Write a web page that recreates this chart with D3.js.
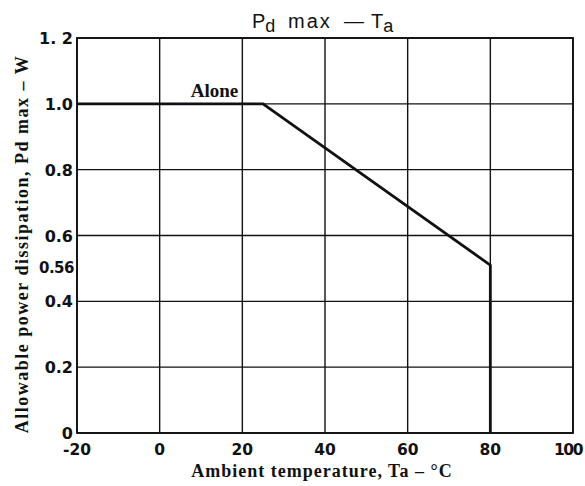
<!DOCTYPE html>
<html>
<head>
<meta charset="utf-8">
<script src="https://cdn.jsdelivr.net/npm/d3@7"></script>
<style>
  body { margin: 0; background: #fff; }
</style>
</head>
<body>
<div id="chart"></div>
<script>
// chart values
const temps = [-20, 25, 80];
const power = [1.0, 1.0, 0.51];
const xTicks = [-20, 0, 20, 40, 60, 80, 100];
const yTicks = [0, 0.2, 0.4, 0.6, 0.8, 1.0, 1.2];
const yLabels = ["0", "0.2", "0.4", "0.6", "0.8", "1.0", "1. 2"];
const endLabel = "0.56";

const width = 585, height = 486;
const margin = {top: 38, right: 12, bottom: 53, left: 77};

const svg = d3.select("#chart").append("svg")
    .attr("width", width)
    .attr("height", height);

const x = d3.scaleLinear().domain([-20, 100]).range([margin.left, width - margin.right]);
const y = d3.scaleLinear().domain([0, 1.2]).range([height - margin.bottom, margin.top]);

// grid
svg.append("g")
  .selectAll("line")
  .data(xTicks)
  .join("line")
    .attr("x1", d => x(d)).attr("x2", d => x(d))
    .attr("y1", y(0)).attr("y2", y(1.2))
    .attr("stroke", "#111")
    .attr("stroke-width", 1.4);

svg.append("g")
  .selectAll("line")
  .data(yTicks)
  .join("line")
    .attr("x1", x(-20)).attr("x2", x(100))
    .attr("y1", d => y(d)).attr("y2", d => y(d))
    .attr("stroke", "#111")
    .attr("stroke-width", 1.4);

// frame
svg.append("rect")
    .attr("x", x(-20)).attr("y", y(1.2))
    .attr("width", x(100) - x(-20)).attr("height", y(0) - y(1.2))
    .attr("fill", "none").attr("stroke", "#111").attr("stroke-width", 1.8);

// curve
const pts = temps.map((t, i) => [t, power[i]]);
pts.push([80, 0]);
svg.append("path")
    .datum(pts)
    .attr("d", d3.line().x(d => x(d[0])).y(d => y(d[1])))
    .attr("fill", "none")
    .attr("stroke", "#111")
    .attr("stroke-width", 2.8);

// tick labels
const tickFont = "'DejaVu Sans', sans-serif";
svg.append("g")
  .selectAll("text")
  .data(xTicks)
  .join("text")
    .attr("x", d => d == 100 ? x(d) - 5 : x(d))
    .attr("y", y(0) + 22)
    .attr("text-anchor", "middle")
    .attr("font-family", tickFont)
    .attr("font-weight", "bold")
    .attr("font-size", 15.5)
    .attr("letter-spacing", d => d == 100 ? -1.5 : 0)
    .attr("fill", "#111")
    .text(d => d);

svg.append("g")
  .selectAll("text")
  .data(yTicks)
  .join("text")
    .attr("x", x(-20) - 4)
    .attr("y", d => y(d) + 6)
    .attr("text-anchor", "end")
    .attr("font-family", tickFont)
    .attr("font-weight", "bold")
    .attr("font-size", 16)
    .attr("fill", "#111")
    .text((d, i) => yLabels[i]);

svg.append("text")
    .attr("x", x(-20) - 3)
    .attr("y", y(power[2]) + 8)
    .attr("text-anchor", "end")
    .attr("font-family", tickFont)
    .attr("font-weight", "bold")
    .attr("font-size", 15)
    .attr("letter-spacing", -0.5)
    .attr("fill", "#111")
    .text(endLabel);

// Alone label
svg.append("text")
    .attr("x", x(19))
    .attr("y", y(1.0) - 7)
    .attr("text-anchor", "end")
    .attr("font-family", "'Liberation Serif', serif")
    .attr("font-weight", "bold")
    .attr("font-size", 19)
    .attr("fill", "#111")
    .text("Alone");

// title, pieces placed to follow the scan's wide lettering
const title = svg.append("text")
    .attr("y", 28)
    .attr("font-family", "'Liberation Sans', sans-serif")
    .attr("font-size", 20)
    .attr("fill", "#111");
title.append("tspan").attr("x", 252).text("P");
title.append("tspan").attr("dy", 4).attr("font-size", 18).text("d");
title.append("tspan").attr("x", 288).attr("dy", -4).attr("letter-spacing", 2).text("max");
title.append("tspan").attr("x", 344).text("\u2014");
title.append("tspan").attr("x", 371).text("T");
title.append("tspan").attr("dy", 4).attr("font-size", 18).text("a");

// axis titles
svg.append("text")
    .attr("x", 322)
    .attr("y", 477)
    .attr("text-anchor", "middle")
    .attr("font-family", "'Liberation Serif', serif")
    .attr("font-weight", "bold")
    .attr("font-size", 18)
    .attr("letter-spacing", 1)
    .attr("fill", "#111")
    .text("Ambient temperature, Ta \u2013 \u00b0C");

svg.append("text")
    .attr("transform", "translate(28,244) rotate(-90)")
    .attr("text-anchor", "middle")
    .attr("font-family", "'Liberation Serif', serif")
    .attr("font-weight", "bold")
    .attr("font-size", 18)
    .attr("letter-spacing", 1.5)
    .attr("fill", "#111")
    .text("Allowable power dissipation, Pd max \u2013 W");
</script>
</body>
</html>
